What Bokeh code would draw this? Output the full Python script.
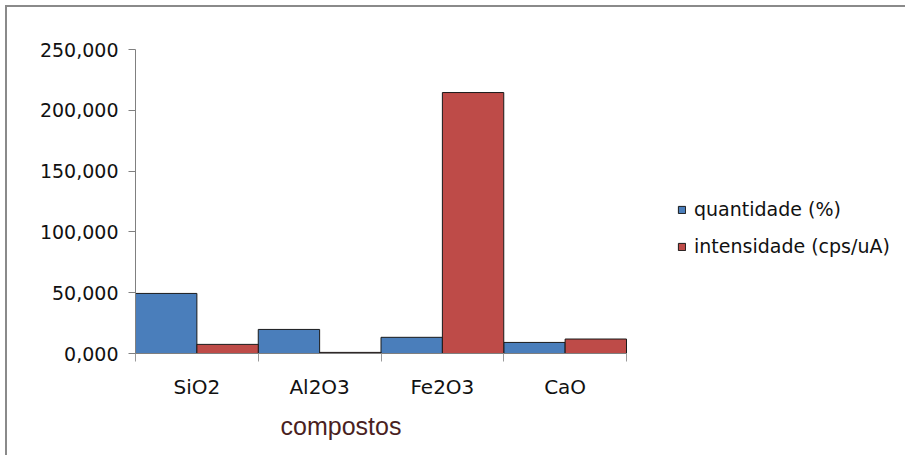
from bokeh.plotting import figure
from bokeh.models import Range1d, FixedTicker, Legend, LegendItem, Title, ColumnDataSource
from bokeh.embed import file_html
from bokeh.resources import INLINE

categories = ["SiO2", "Al2O3", "Fe2O3", "CaO"]
quantidade = [49.4, 19.8, 13.3, 9.1]
intensidade = [7.5, 0.9, 214.6, 11.9]
y_ticks = [0, 50, 100, 150, 200, 250]
y_tick_labels = ["0,000", "50,000", "100,000", "150,000", "200,000", "250,000"]
series_names = ["quantidade (%)", "intensidade (cps/uA)"]
x_title = "compostos"

BLUE = "#4a7ebb"
RED = "#be4b48"

W, H = 900, 450
LEFT, TOP, BOTTOM = 128, 42, 104
CAT_PX = 122.75          # pixel width of one category
frame_w = W - LEFT
n = len(categories)
x_end = frame_w / CAT_PX   # frame extends to the right edge, categories occupy [0, n]

idx = list(range(n))
src = ColumnDataSource(dict(
    x_q=[i + 0.25 for i in idx],
    x_i=[i + 0.75 for i in idx],
    q=quantidade,
    it=intensidade,
))

p = figure(width=W, height=H, output_backend="svg", toolbar_location=None,
           x_range=Range1d(0, x_end), y_range=Range1d(0, 250),
           min_border_left=LEFT, min_border_right=0, min_border_top=TOP,
           min_border_bottom=BOTTOM)
p.styles = {"border-left": "2px solid #8a8a8a", "border-top": "2px solid #8a8a8a",
            "margin-left": "5px", "margin-top": "5px"}
p.outline_line_color = None
p.grid.visible = False
p.background_fill_color = "white"
p.border_fill_color = "white"

r1 = p.vbar(x="x_q", top="q", width=0.5, bottom=0, source=src,
            fill_color=BLUE, line_color="#1a1a1a", line_width=1)
r2 = p.vbar(x="x_i", top="it", width=0.5, bottom=0, source=src,
            fill_color=RED, line_color="#1a1a1a", line_width=1)

# x axis: labels at category centres, tick marks at category boundaries
xa = p.xaxis[0]
xa.bounds = (0, n)
xa.ticker = FixedTicker(ticks=[i + 0.5 for i in idx], minor_ticks=list(range(n + 1)))
xa.major_label_overrides = {i + 0.5: c for i, c in zip(idx, categories)}
xa.major_tick_out = 0
xa.major_tick_in = 0
xa.minor_tick_out = 8
xa.minor_tick_in = 0
xa.minor_tick_line_color = "#9a9a9a"
xa.axis_line_color = "#7f7f7f"
xa.major_label_text_font = "DejaVu Sans"
xa.major_label_text_font_size = "20px"
xa.major_label_text_color = "#111111"
xa.major_label_standoff = 13

ya = p.yaxis[0]
ya.ticker = FixedTicker(ticks=y_ticks, minor_ticks=[])
ya.major_label_overrides = {t: l for t, l in zip(y_ticks, y_tick_labels)}
ya.major_tick_out = 7
ya.major_tick_in = 0
ya.minor_tick_out = 0
ya.minor_tick_in = 0
ya.major_tick_line_color = "#808080"
ya.axis_line_color = "#808080"
ya.major_label_text_font = "DejaVu Sans"
ya.major_label_text_font_size = "19px"
ya.major_label_text_color = "#111111"
ya.major_label_standoff = 10

title = Title(text=x_title, align="left", offset=145, text_font="Liberation Sans",
              text_font_size="25px", text_font_style="normal", text_color="#4a1f1f",
              standoff=16)
p.add_layout(title, "below")

legend = Legend(items=[LegendItem(label=series_names[0], renderers=[r1]),
                       LegendItem(label=series_names[1], renderers=[r2])],
                location=(542, 96), orientation="vertical", padding=0, margin=0,
                spacing=15, glyph_width=9, glyph_height=9, label_standoff=8,
                border_line_color=None, background_fill_alpha=0,
                label_text_font="DejaVu Sans", label_text_font_size="19px",
                label_text_color="#111111")
p.add_layout(legend)

open("out.html", "w").write(file_html(p, INLINE))
